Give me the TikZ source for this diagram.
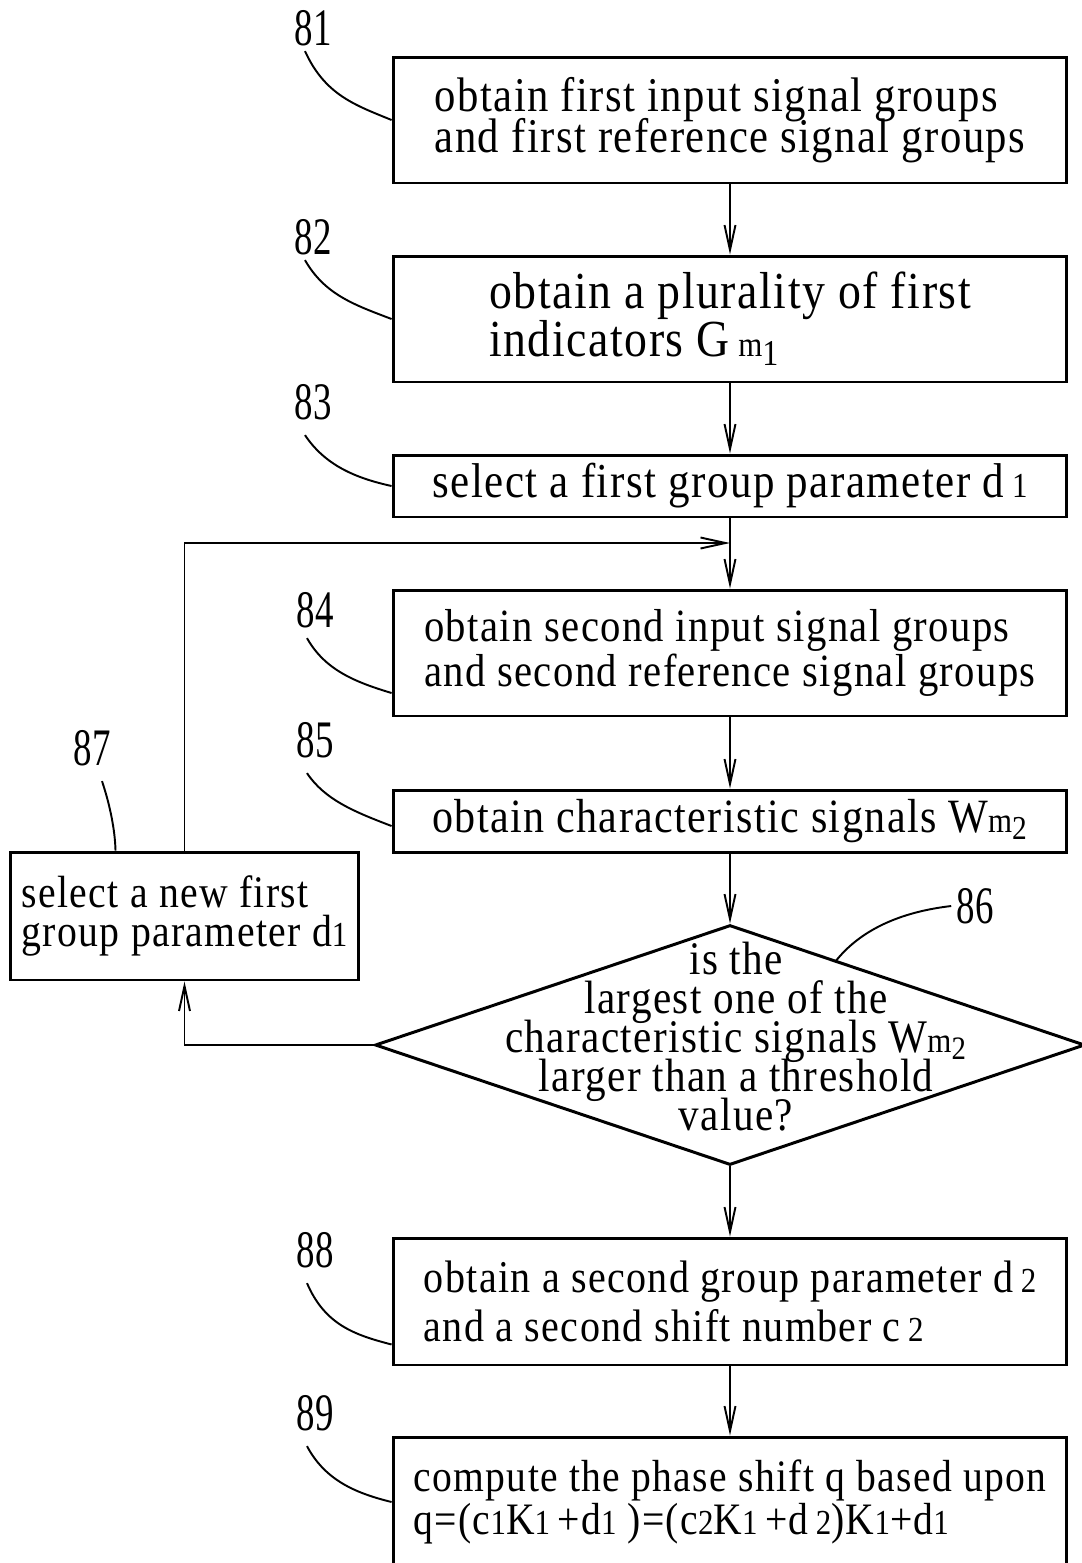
\documentclass[tikz,border=0pt]{standalone}
\usepackage{fontspec}
\setmainfont[FakeStretch = 0.88, LetterSpace = 3]{Liberation Serif}
\newfontfamily\numfont[FakeStretch = 0.7]{Liberation Serif}
\usetikzlibrary{shapes.geometric,arrows.meta}
\newcommand{\boxfont}[2]{\fontsize{#1}{#2}\selectfont\lineskiplimit = -100pt}
\newcommand{\sml}[1]{{\fontsize{20pt}{20pt}\selectfont #1}}

\tikzset{
  stepbox/.style = {draw, line width = 1.7pt, minimum width = 13.48cm, inner sep = 0pt, align = left},
  flow/.style = {line width = 1.1pt, -{Straight Barb[length = 0.5cm, width = 0.22cm]}},
  leader/.style = {line width = 1.1pt},
  num/.style = {font = \numfont\fontsize{30pt}{30pt}\selectfont, inner sep = 0pt}
}

\begin{document}
\begin{tikzpicture} [x = 0.02cm, y = -0.02cm]
\clip (0, 0) rectangle (1082, 1563);
% steps
\node[stepbox, minimum height = 2.52cm, font = \boxfont{27.6pt}{23pt}] (b81) at (730, 120)
  {obtain first input signal groups\\and first reference signal groups};
\node[stepbox, minimum height = 2.52cm, font = \boxfont{29.6pt}{27.2pt}] (b82) at (730, 319)
  {obtain a plurality of first\\indicators G\,\sml{m}\textsubscript{1}};
\node[stepbox, minimum height = 1.24cm, font = \boxfont{27.8pt}{24pt}] (b83) at (730, 486)
  {select a first group parameter d\,\sml{1}};
\node[stepbox, minimum height = 2.52cm, font = \boxfont{26.3pt}{26pt}] (b84) at (730, 653)
  {obtain second input signal groups\\and second reference signal groups};
\node[stepbox, minimum height = 1.24cm, font = \boxfont{27.2pt}{24pt}] (b85) at (730, 821)
  {obtain characteristic signals W\sml{m}\textsubscript{2}};
\node[stepbox, minimum width = 6.98cm, minimum height = 2.56cm, font = \boxfont{25.7pt}{22pt}] (b87) at (184.5, 916)
  {select a new first\\group parameter d\sml{1}};
\node[draw, diamond, line width = 1.7pt, minimum width = 14.2cm, minimum height = 4.8cm, inner sep = 0pt] (d86) at (730, 1045) {};
\node[align = center, inner sep = 0pt, font = \boxfont{26.6pt}{22.2pt}] (q86) at (736, 1037)
  {is the\\largest one of the\\characteristic signals W\sml{m}\textsubscript{2}\\larger than a threshold\\value?};
\node[stepbox, minimum height = 2.54cm, font = \boxfont{25.9pt}{28.3pt}] (b88) at (730, 1301.5)
  {obtain a second group parameter d\,\sml{2}\\and a second shift number c\,\sml{2}};
\node[stepbox, minimum height = 2.6cm, font = \boxfont{25.6pt}{24.8pt}] (b89) at (730, 1502)
  {compute the phase shift q based upon\\q=(c\sml{1}K\sml{1}\,+d\sml{1} )=(c\sml{2}K\sml{1}\,+d\,\sml{2})K\sml{1}+d\sml{1}};
% connectors
\coordinate (j) at (730, 543);
\draw[flow] (b81) -- (b82);
\draw[flow] (b82) -- (b83);
\draw[flow] (b83) -- (b84);
\draw[flow] (b84) -- (b85);
\draw[flow] (b85) -- (d86);
\draw[flow] (d86) -- (b88);
\draw[flow] (b88) -- (b89);
\draw[flow] (d86.west) -| (b87.south);
\draw[flow] (b87.north) |- (j);
% reference numerals
\node[num] (l81) at (313, 28){81};
\node[num] (l82) at (313, 237){82};
\node[num] (l83) at (313, 402){83};
\node[num] (l84) at (315, 610){84};
\node[num] (l85) at (315, 740){85};
\node[num] (l86) at (975, 906){86};
\node[num] (l87) at (92, 748){87};
\node[num] (l88) at (315, 1250){88};
\node[num] (l89) at (315, 1413){89};
\draw[leader] ([xshift = -0.16cm, yshift = -0.1cm]l81.south) .. controls (325, 95) and (355, 105) .. (b81.west);
\draw[leader] ([xshift = -0.16cm, yshift = -0.1cm]l82.south) .. controls (325, 295) and (355, 305) .. (b82.west);
\draw[leader] ([xshift = -0.16cm, yshift = -0.3cm]l83.south) .. controls (325, 465) and (355, 478) .. (b83.west);
\draw[leader] ([xshift = -0.16cm, yshift = -0.2cm]l84.south) .. controls (325, 670) and (355, 682) .. ([yshift = -0.8cm]b84.west);
\draw[leader] ([xshift = -0.16cm, yshift = -0.3cm]l85.south) .. controls (325, 800) and (355, 812) .. ([yshift = -0.1cm]b85.west);
\draw[leader] ([xshift = 0.2cm, yshift = -0.3cm]l87.south) .. controls (110, 805) and (115, 830) .. ([xshift = -1.38cm]b87.north);
\draw[leader] ([xshift = -0.1cm]l86.west) .. controls (900, 912) and (860, 930) .. (835, 962);
\draw[leader] ([xshift = -0.16cm, yshift = -0.3cm]l88.south) .. controls (325, 1325) and (355, 1335) .. ([yshift = -0.86cm]b88.west);
\draw[leader] ([xshift = -0.16cm, yshift = -0.3cm]l89.south) .. controls (325, 1480) and (355, 1493) .. (b89.west);
\end{tikzpicture}
\end{document}
